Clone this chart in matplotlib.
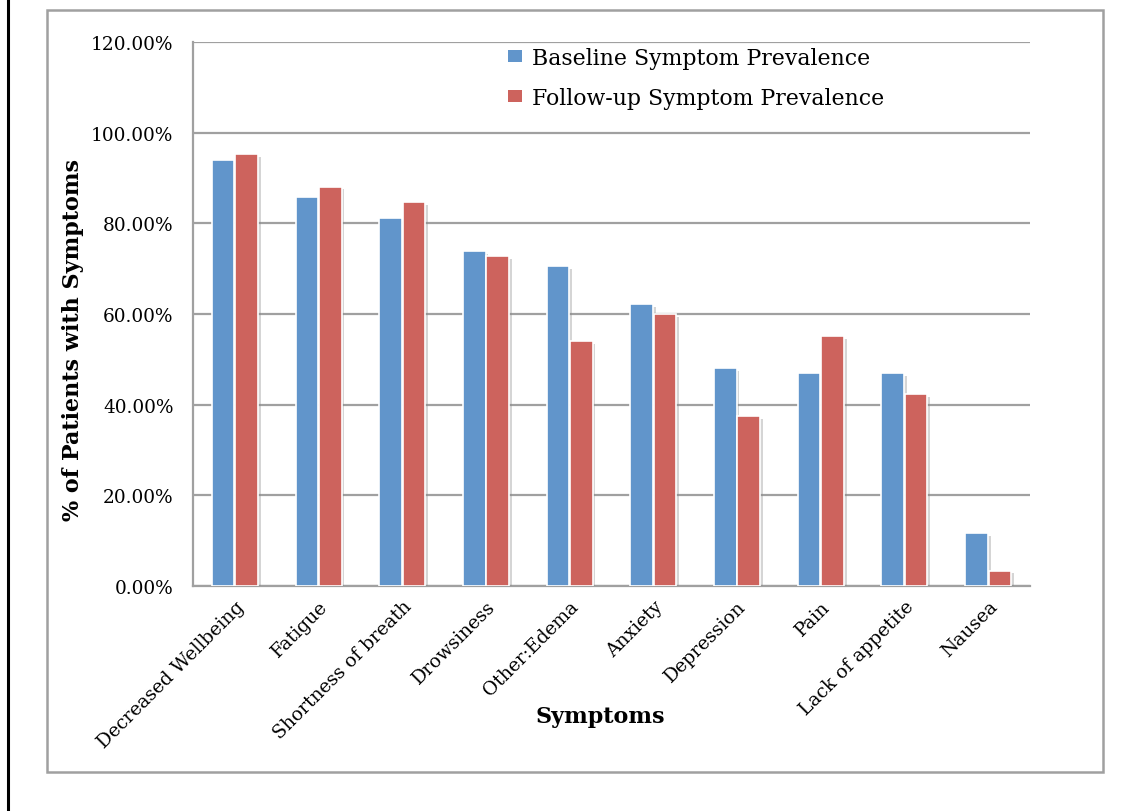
import matplotlib
matplotlib.use("Agg")
import matplotlib.pyplot as plt
import matplotlib.patheffects as pe
from matplotlib.lines import Line2D
from matplotlib.patches import Rectangle, Patch
from matplotlib.ticker import FuncFormatter
import numpy as np

# symptom prevalence, percent of patients
symptoms = ["Decreased Wellbeing", "Fatigue", "Shortness of breath", "Drowsiness",
            "Other:Edema", "Anxiety", "Depression", "Pain", "Lack of appetite", "Nausea"]
baseline = [94.0, 85.8, 81.2, 73.9, 70.6, 62.2, 48.1, 47.0, 47.0, 11.7]
followup = [95.3, 88.1, 84.6, 72.8, 54.0, 60.0, 37.5, 55.2, 42.4, 3.4]
series_names = ["Baseline Symptom Prevalence", "Follow-up Symptom Prevalence"]

blue = "#6195cb"
red = "#cd635d"
grid_gray = "#a0a0a0"

plt.rcParams["font.family"] = ["DejaVu Serif"]

fig = plt.figure(figsize=(11.3, 8.12), dpi=100)
ax = fig.add_axes([193/1130, 1 - 587/812, (1030-193)/1130, (587-43)/812])

# outer frames
fig.add_artist(Line2D([8/1130, 8/1130], [0, 1], color="black", lw=2.2, transform=fig.transFigure))
fig.add_artist(Rectangle((47/1130, 1 - 773/812), (1103-47)/1130, (773-11)/812,
                         transform=fig.transFigure, fill=False, edgecolor=grid_gray, lw=1.8))

x = np.arange(len(symptoms))
w = 0.27
shadow = [pe.SimplePatchShadow(offset=(2, -2), shadow_rgbFace="#888888", alpha=0.35), pe.Normal()]
b1 = ax.bar(x - w/2 - 0.005, baseline, w, color=blue, edgecolor="white", lw=1.2, zorder=3)
b2 = ax.bar(x + w/2 + 0.005, followup, w, color=red, edgecolor="white", lw=1.2, zorder=3)
for bars in (b1, b2):
    for p in bars:
        p.set_path_effects(shadow)

ax.set_xlim(-0.5, len(symptoms) - 0.5)
ax.set_ylim(0, 120)
ax.set_yticks(np.arange(0, 121, 20))
ax.yaxis.set_major_formatter(FuncFormatter(lambda v, _: f"{v:.2f}%"))
ax.yaxis.grid(True, color=grid_gray, lw=1.6, zorder=0)
ax.set_axisbelow(True)

for s in ("top", "right"):
    ax.spines[s].set_visible(False)
for s in ("left", "bottom"):
    ax.spines[s].set_color(grid_gray)
    ax.spines[s].set_linewidth(1.6)

ax.tick_params(axis="y", length=0, labelsize=13.3, pad=14)
ax.tick_params(axis="x", length=0, pad=8)
ax.set_xticks(x)
ax.set_xticklabels(symptoms, rotation=45, ha="right", rotation_mode="anchor", fontsize=13.5)

ax.set_ylabel("% of Patients with Symptoms", fontsize=16, fontweight="bold")
ax.yaxis.set_label_coords(-0.130, 0.454)
ax.set_xlabel("Symptoms", fontsize=16, fontweight="bold")
ax.xaxis.set_label_coords(0.486, -0.219)

handles = [Patch(facecolor=blue), Patch(facecolor=red)]
ax.legend(handles, series_names, loc="upper left", bbox_to_anchor=(0.353, 1.028),
          frameon=False, fontsize=15.8, handlelength=0.65, handleheight=0.45,
          handletextpad=0.45, labelspacing=0.85)

fig.savefig("out.png", dpi=100)
